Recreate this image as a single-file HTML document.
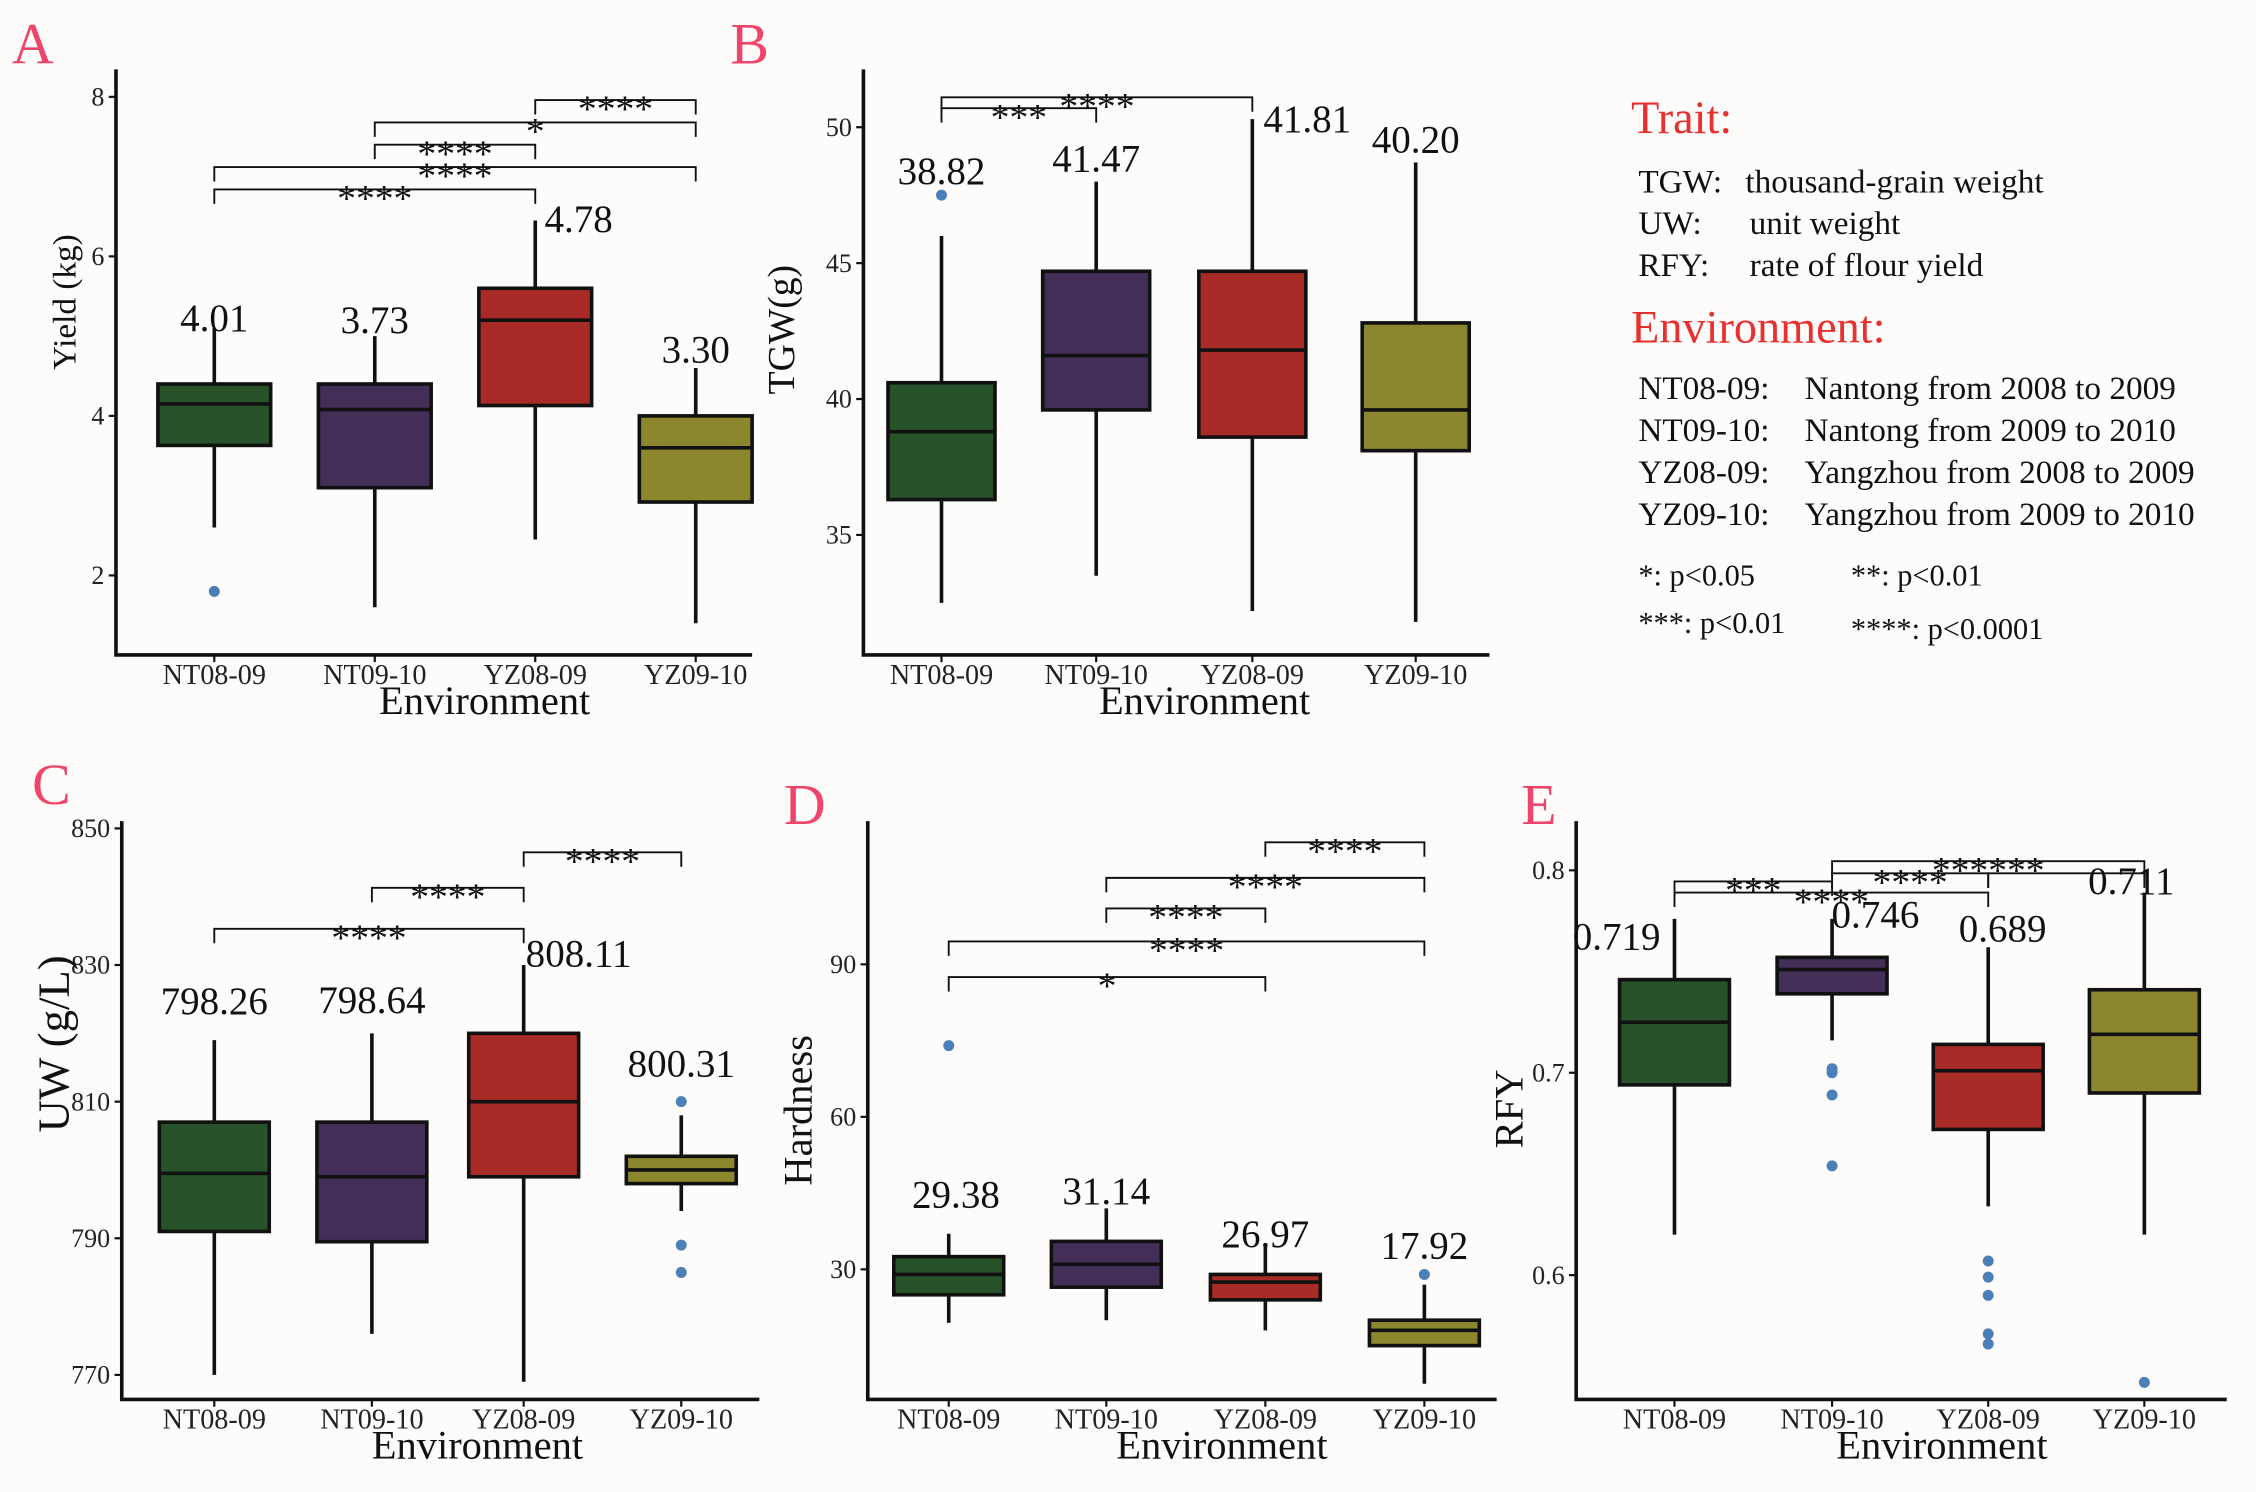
<!DOCTYPE html>
<html><head><meta charset="utf-8"><style>
html,body{margin:0;padding:0;background:#fdfcfa;}
svg{display:block;font-family:"Liberation Serif",serif;}
</style></head><body>
<svg id="fig" width="2256" height="1492" viewBox="0 0 1560 1032" xmlns="http://www.w3.org/2000/svg">
<rect width="1560" height="1032" fill="#fdfcfa"/>
<g id="legend" font-size="23" fill="#111">
<text x="1128" y="92" font-size="32" fill="#e8302f">Trait:</text>
<text x="1133" y="133">TGW:</text><text x="1207" y="133">thousand-grain weight</text>
<text x="1133" y="162">UW:</text><text x="1210" y="162">unit weight</text>
<text x="1133" y="191">RFY:</text><text x="1210" y="191">rate of flour yield</text>
<text x="1128" y="237" font-size="32" fill="#e8302f">Environment:</text>
<text x="1133" y="276">NT08-09:</text><text x="1248" y="276">Nantong from 2008 to 2009</text>
<text x="1133" y="305">NT09-10:</text><text x="1248" y="305">Nantong from 2009 to 2010</text>
<text x="1133" y="334">YZ08-09:</text><text x="1248" y="334">Yangzhou from 2008 to 2009</text>
<text x="1133" y="363">YZ09-10:</text><text x="1248" y="363">Yangzhou from 2009 to 2010</text>
<text x="1133" y="405" font-size="21">*: p&lt;0.05</text><text x="1280" y="405" font-size="21">**: p&lt;0.01</text>
<text x="1133" y="438" font-size="21">***: p&lt;0.01</text><text x="1280" y="442" font-size="21">****: p&lt;0.0001</text>
</g>
</svg>
<script>
const categories=["NT08-09","NT09-10","YZ08-09","YZ09-10"];
const colors=["#27522a","#432e58","#a82b27","#8c862c"];
// Panel A Yield
const aQ1=[3.63,3.1,4.13,2.92],aMed=[4.15,4.08,5.2,3.6],aQ3=[4.4,4.4,5.6,4.0],aLo=[2.6,1.6,2.45,1.4],aHi=[5.1,5.0,6.45,4.6];
const aOut=[[1.8],[],[],[]];const aMeans=["4.01","3.73","4.78","3.30"];const aTicks=[2,4,6,8];
const aBr=[[2,3,7.96,"****"],[1,3,7.68,"*"],[1,2,7.4,"****"],[0,3,7.12,"****"],[0,2,6.84,"****"]];
// Panel B TGW
const bQ1=[36.3,39.6,38.6,38.1],bMed=[38.8,41.6,41.8,39.6],bQ3=[40.6,44.7,44.7,42.8],bLo=[32.5,33.5,32.2,31.8],bHi=[46,48,50.3,48.7];
const bOut=[[47.5],[],[],[]];const bMeans=["38.82","41.47","41.81","40.20"];const bTicks=[35,40,45,50];
const bBr=[[0,2,51.1,"****"],[0,1,50.7,"***"]];
// Panel C UW
const cQ1=[791,789.5,799,798],cMed=[799.5,799,810,800],cQ3=[807,807,820,802],cLo=[770,776,769,794],cHi=[819,820,830,808];
const cOut=[[],[],[],[810,789,785]];const cMeans=["798.26","798.64","808.11","800.31"];const cTicks=[770,790,810,830,850];
const cBr=[[2,3,846.5,"****"],[1,2,841.3,"****"],[0,2,835.3,"****"]];
// Panel D Hardness
const dQ1=[25,26.5,24,15],dMed=[29,31,27.5,18],dQ3=[32.5,35.5,29,20],dLo=[19.5,20,18,7.5],dHi=[37,42,35,27];
const dOut=[[74],[],[],[29]];const dMeans=["29.38","31.14","26.97","17.92"];const dTicks=[30,60,90];
const dBr=[[2,3,114,"****"],[1,3,107,"****"],[1,2,101,"****"],[0,3,94.5,"****"],[0,2,87.5,"*"]];
// Panel E RFY
const eQ1=[.694,.739,.672,.690],eMed=[.725,.751,.701,.719],eQ3=[.746,.757,.714,.741],eLo=[.62,.716,.634,.62],eHi=[.776,.776,.762,.789];
const eOut=[[],[.702,.700,.689,.654],[.607,.599,.590,.571,.566],[.547]];const eMeans=["0.719","0.746","0.689","0.711"];const eTicks=[0.6,0.7,0.8];
const eBr=[[0,1,.7945,"***"],[0,2,.789,"****"],[1,2,.7985,"****"],[1,3,.8045,"******"],[2,3,.7985,""]];

const NS="http://www.w3.org/2000/svg";const svg=document.getElementById('fig');
function mk(tag,attrs,parent,txt){const e=document.createElementNS(NS,tag);for(const k in attrs)e.setAttribute(k,attrs[k]);if(txt!==undefined)e.textContent=txt;parent.appendChild(e);return e;}
function panel(p){
  const g=mk('g',{},svg);
  
  
  const Y=v=>p.py0+(v-p.v0)*(p.py1-p.py0)/(p.v1-p.v0);
  const X=i=>p.xs[i];
  const let_=mk('text',{x:p.lx,y:p.ly,'font-size':40,fill:'#f0456a'},g,p.id.toUpperCase());
  
  
  const ax=mk('path',{d:`M${p.ax} ${p.top} V${p.bot} H${p.right}`,stroke:'#111','stroke-width':2.5,fill:'none'},g);
  
  
  p.ticks.forEach(t=>{const y=Y(t);mk('line',{x1:p.ax-5,x2:p.ax,y1:y,y2:y,stroke:'#111','stroke-width':1.5},g);
    const tl=mk('text',{x:p.ax-8,y:y+6,'font-size':18,'text-anchor':'end',fill:'#222'},g,String(t));
    
    });
  categories.forEach((c,i)=>{mk('line',{x1:X(i),x2:X(i),y1:p.bot,y2:p.bot+5,stroke:'#111','stroke-width':1.5},g);
    const tl=mk('text',{x:X(i),y:p.bot+20,'font-size':19.5,'text-anchor':'middle',fill:'#222'},g,c);
    
    });
  const xt=mk('text',{x:p.xtx,y:p.bot+41,'font-size':28,'text-anchor':'middle',fill:'#111'},g,'Environment');
  
  
  const yt=mk('text',{x:0,y:0,'font-size':p.ytf,'text-anchor':'middle',fill:'#111',transform:`translate(${p.ytx},${p.yty}) rotate(-90)`},g,p.ytitle);
  
  
  const hw=p.bw/2;
  categories.forEach((c,i)=>{const x=X(i);
    mk('line',{x1:x,x2:x,y1:Y(p.lo[i]),y2:Y(p.hi[i]),stroke:'#111','stroke-width':2.5},g);
    const b=mk('rect',{x:x-hw,y:Y(p.q3[i]),width:p.bw,height:Y(p.q1[i])-Y(p.q3[i]),fill:colors[i],stroke:'#111','stroke-width':2.5},g);
    
    
    mk('line',{x1:x-hw,x2:x+hw,y1:Y(p.med[i]),y2:Y(p.med[i]),stroke:'#111','stroke-width':2.5},g);
    p.out[i].forEach(o=>{const d=mk('circle',{cx:x,cy:Y(o),r:3.8,fill:'#4a7fb8'},g);
      
      });
    const off=(p.shift&&i===2)?30:0;
    const base=Y(p.hi[i])-(off?-8:7);
    const m=mk('text',{x:x+off+p.ldx[i],y:base+p.ldy[i],'font-size':27,'text-anchor':'middle',fill:'#111'},g,p.means[i]);
    
    });
  p.br.forEach(b=>{const y=Y(b[2]);const x1=X(b[0]),x2=X(b[1]);
    const l=mk('path',{d:`M${x1} ${y+10} V${y} H${x2} V${y+10}`,stroke:'#111','stroke-width':1.3,fill:'none'},g);
    
    
    if(b[3]){const s=mk('text',{x:(x1+x2)/2,y:y+15,'font-size':26,'text-anchor':'middle',fill:'#111'},g,b[3]);
    
    }});
}
panel({id:'a',lx:8,ly:44,ax:80,top:48,bot:453,right:520,v0:8,v1:2,py0:67,py1:398,xs:[148,259,370,481],bw:78,ticks:aTicks,q1:aQ1,med:aMed,q3:aQ3,lo:aLo,hi:aHi,out:aOut,means:aMeans,br:aBr,xtx:335,ytitle:'Yield (kg)',ytx:52,yty:209,ytf:23,shift:true,ldx:[0,0,0,0],ldy:[9,5,0,3]});
panel({id:'b',lx:505,ly:44,ax:597,top:48,bot:453,right:1030,v0:50,v1:35,py0:88,py1:370,xs:[651,758,866,979],bw:74,ticks:bTicks,q1:bQ1,med:bMed,q3:bQ3,lo:bLo,hi:bHi,out:bOut,means:bMeans,br:bBr,xtx:833,ytitle:'TGW(g)',ytx:549,yty:228,ytf:26,ldx:[0,0,38,0],ldy:[-29,0,16,0]});
panel({id:'c',lx:22,ly:556,ax:84,top:568,bot:968,right:525,v0:850,v1:770,py0:573,py1:951,xs:[148,257,362,471],bw:76,ticks:cTicks,q1:cQ1,med:cMed,q3:cQ3,lo:cLo,hi:cHi,out:cOut,means:cMeans,br:cBr,xtx:330,ytitle:'UW (g/L)',ytx:47,yty:722,ytf:31,shift:true,ldx:[0,0,8,0],ldy:[-11,-7,-7,-20]});
panel({id:'d',lx:542,ly:570,ax:600,top:568,bot:968,right:1035,v0:90,v1:30,py0:667,py1:878,xs:[656,765,875,985],bw:76,ticks:dTicks,q1:dQ1,med:dMed,q3:dQ3,lo:dLo,hi:dHi,out:dOut,means:dMeans,br:dBr,xtx:845,ytitle:'Hardness',ytx:561,yty:768,ytf:28,ldx:[5,0,0,0],ldy:[-11,4,9,-11]});
panel({id:'e',lx:1052,ly:570,ax:1090,top:568,bot:968,right:1540,v0:.8,v1:.6,py0:602,py1:882,xs:[1158,1267,1375,1483],bw:76,ticks:eTicks,q1:eQ1,med:eMed,q3:eQ3,lo:eLo,hi:eHi,out:eOut,means:eMeans,br:eBr,xtx:1343,ytitle:'RFY',ytx:1053,yty:767,ytf:28,ldx:[-40,30,10,-9],ldy:[28,13,3,8]});
</script>
</body></html>
